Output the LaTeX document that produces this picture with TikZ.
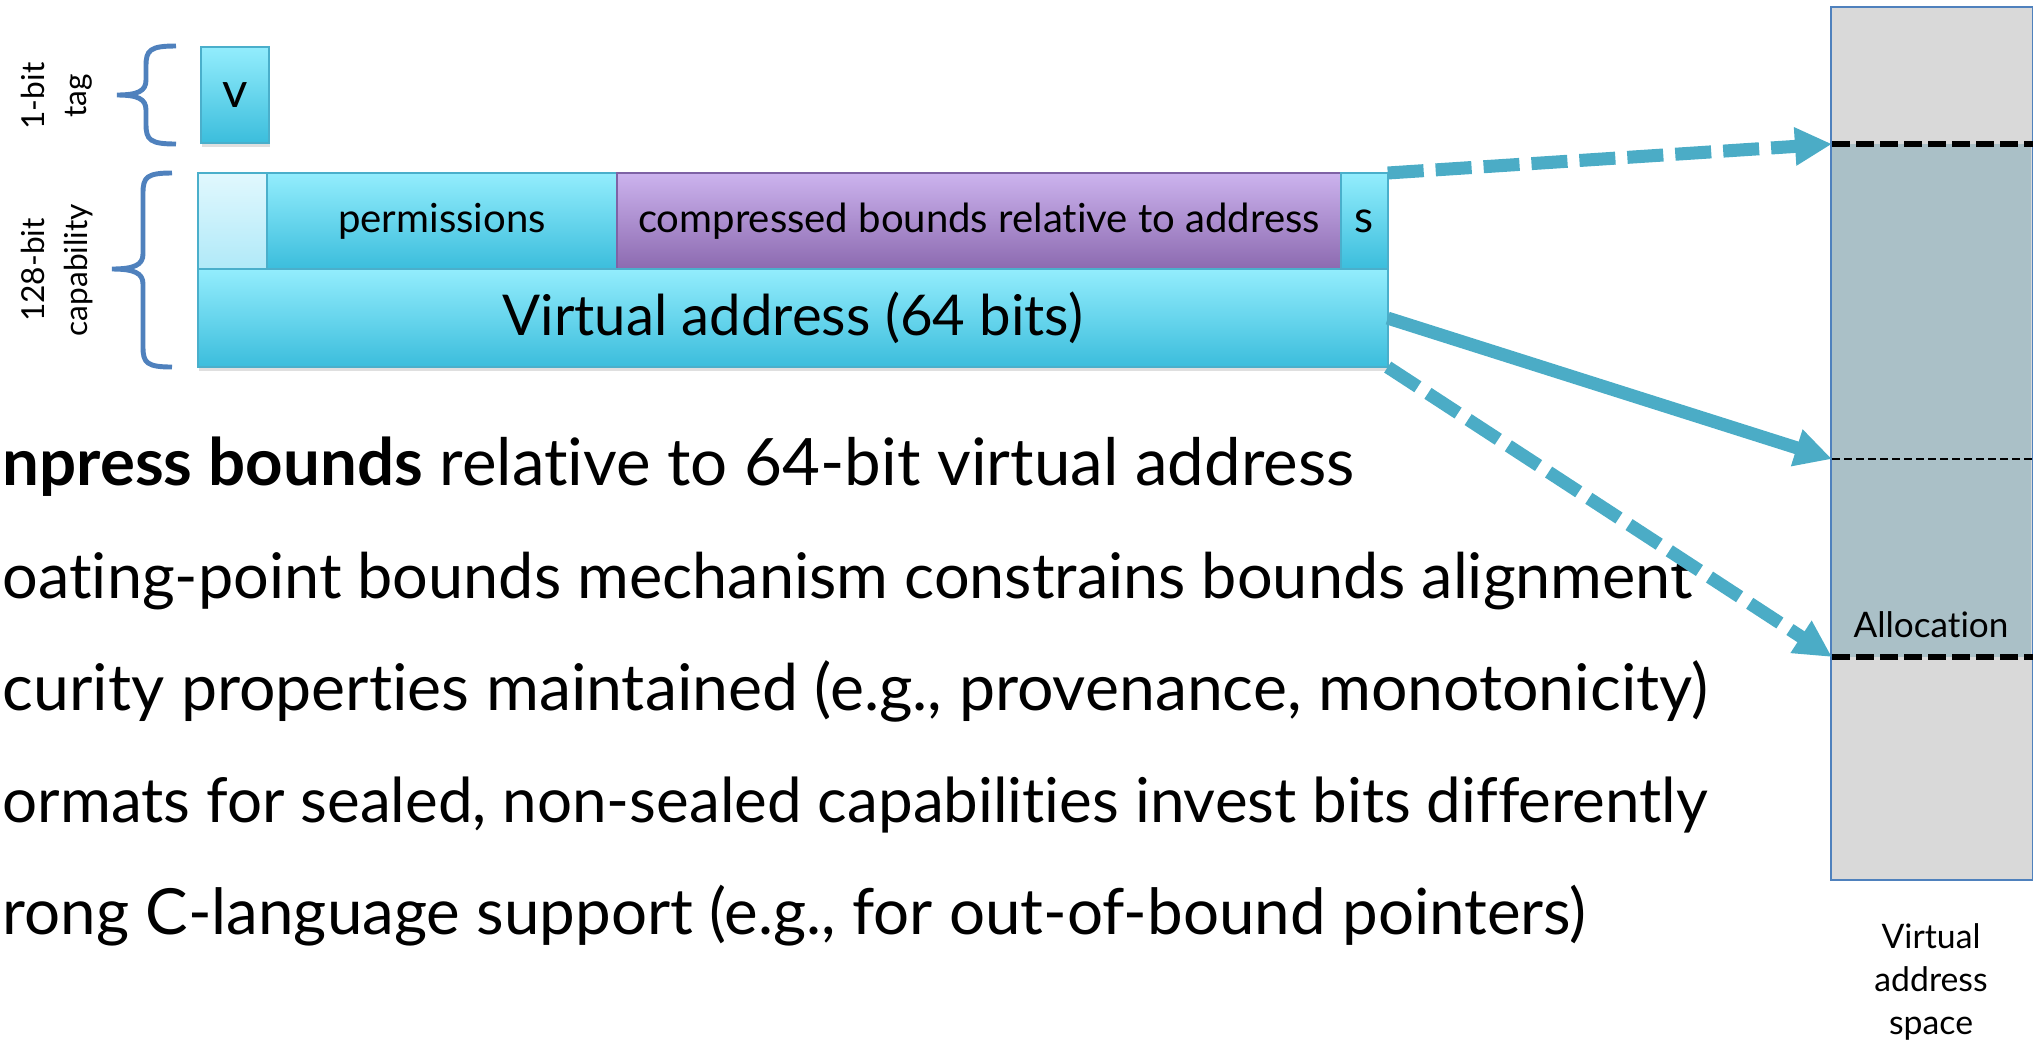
\documentclass[tikz,border=0pt]{standalone}
\usepackage{fontspec}
\setmainfont{Lato}[Ligatures={TeX,NoCommon}]
\usetikzlibrary{arrows.meta,positioning,shadows}

\definecolor{celltop}{HTML}{93EDFD}
\definecolor{cellbot}{HTML}{3BBDDC}
\definecolor{cellline}{HTML}{4AAFCB}
\definecolor{sparetop}{HTML}{E1F8FE}
\definecolor{sparebot}{HTML}{B0E9F8}
\definecolor{bndtop}{HTML}{CCB3EE}
\definecolor{bndbot}{HTML}{8C6AB0}
\definecolor{bndline}{HTML}{7E62A5}
\definecolor{ptrcol}{HTML}{4BACC6}
\definecolor{bracecol}{HTML}{4F81BD}
\definecolor{spacegray}{HTML}{D9D9D9}
\definecolor{allocfill}{HTML}{AAC0C7}

\tikzset{
  cell/.style={draw=cellline, line width=0.6pt, top color=celltop, bottom color=cellbot,
    inner sep=0pt, outer sep=0pt, minimum height=0.96cm, font=\fontsize{11.4}{13}\selectfont,
    drop shadow={shadow xshift=0.4pt, shadow yshift=-1.2pt, opacity=0.25}},
  spare/.style={cell, top color=sparetop, bottom color=sparebot},
  bnds/.style={cell, draw=bndline, top color=bndtop, bottom color=bndbot},
  side/.style={align=center, font=\fontsize{9}{12}\selectfont},
  small/.style={font=\fontsize{9.6}{12.2}\selectfont},
  bullet/.style={anchor=base west, inner sep=0pt, font=\fontsize{#1}{22}\selectfont},
  brace/.style={draw=bracecol, line width=1.4pt},
  ptr/.style={draw=ptrcol, line width=3.7pt, -{Triangle[length=0.37cm, width=0.36cm]}},
  ptr dash/.style={ptr, dash pattern=on 0.36cm off 0.12cm},
  limit/.style={line width=1.7pt, dash pattern=on 0.18cm off 0.06cm},
  cursor/.style={line width=0.7pt, dash pattern=on 0.08cm off 0.04cm}
}

\begin{document}
\begin{tikzpicture}[x=0.01cm, y=-0.01cm]
	\useasboundingbox (0,0) rectangle (2034,1045);
	\clip (0,0) rectangle (2034,1045);

	% virtual address space
	\node[fill=spacegray, anchor=north west, inner sep=0pt, minimum width=2cm, minimum height=8.71cm] (vas) at (1831,7) {};
	\fill[allocfill] (1831,144) rectangle (2031,657);
	\draw[bracecol, line width=0.4pt] (vas.north west) rectangle (vas.south east);
	\coordinate (hi) at (1832,144);
	\coordinate (cur) at (1832,459);
	\coordinate (lo) at (1832,657);
	\draw[limit] (hi) -- (hi -| vas.east);
	\draw[cursor] (cur) -- (cur -| vas.east);
	\draw[limit] (lo) -- (lo -| vas.east);
	\node[font=\fontsize{10}{12}\selectfont, anchor=base] (alloc) at (1931,637) {Allocation};
	\node[small, align=center] (vaslbl) at (1931,982) {Virtual\\address\\space};

	% tag and capability
	\node[cell, anchor=north west, minimum width=0.68cm, font=\fontsize{14}{16}\selectfont] (tag) at (201,47) {v};
	\node[spare, anchor=north west, minimum width=0.69cm] (unused) at (198,173) {};
	\node[cell, minimum width=3.5cm, right=0pt of unused] (perms) {permissions};
	\node[bnds, minimum width=7.23cm, right=0pt of perms] (bounds) {compressed bounds relative to address};
	\node[cell, minimum width=0.47cm, right=0pt of bounds, font=\fontsize{12.5}{14}\selectfont] (sealed) {s};
	\node[cell, anchor=north west, minimum width=11.89cm, minimum height=0.98cm, font=\fontsize{16}{19}\selectfont] (addr) at (unused.south west) {Virtual address (64 bits)};

	\draw[brace] (176,46) .. controls (150,46) and (146,50) .. (146,66) -- (146,80) .. controls (146,91) and (138,95) .. (117,95) .. controls (138,95) and (146,99) .. (146,110) -- (146,124) .. controls (146,140) and (150,144) .. (176,144);
	\draw[brace] (172,173) .. controls (147,173) and (143,177) .. (143,193) -- (143,254) .. controls (143,265) and (134,269) .. (112,269) .. controls (134,269) and (143,273) .. (143,284) -- (143,347) .. controls (143,363) and (147,367) .. (172,367);
	\node[side, rotate=90] (taglbl) at (57,96) {1-bit\\tag};
	\node[side, rotate=90] (caplbl) at (57,270) {128-bit\\capability};

	% bullet text
	\node[bullet=18.6] (pt1) at (2,485) {\textbf{npress bounds} relative to 64-bit virtual address};
	\node[bullet=17.9] (pt2) at (2,598) {oating-point bounds mechanism constrains bounds alignment};
	\node[bullet=18.3] (pt3) at (2,710) {curity properties maintained (e.g., provenance, monotonicity)};
	\node[bullet=17.6] (pt4) at (2,822) {ormats for sealed, non-sealed capabilities invest bits differently};
	\node[bullet=18.1] (pt5) at (2,934) {rong C-language support (e.g., for out-of-bound pointers)};

	\draw[ptr dash] (sealed.north east) -- (hi);
	\draw[ptr] (addr.east) -- (cur);
	\draw[ptr dash] (addr.south east) -- (lo);
\end{tikzpicture}
\end{document}
